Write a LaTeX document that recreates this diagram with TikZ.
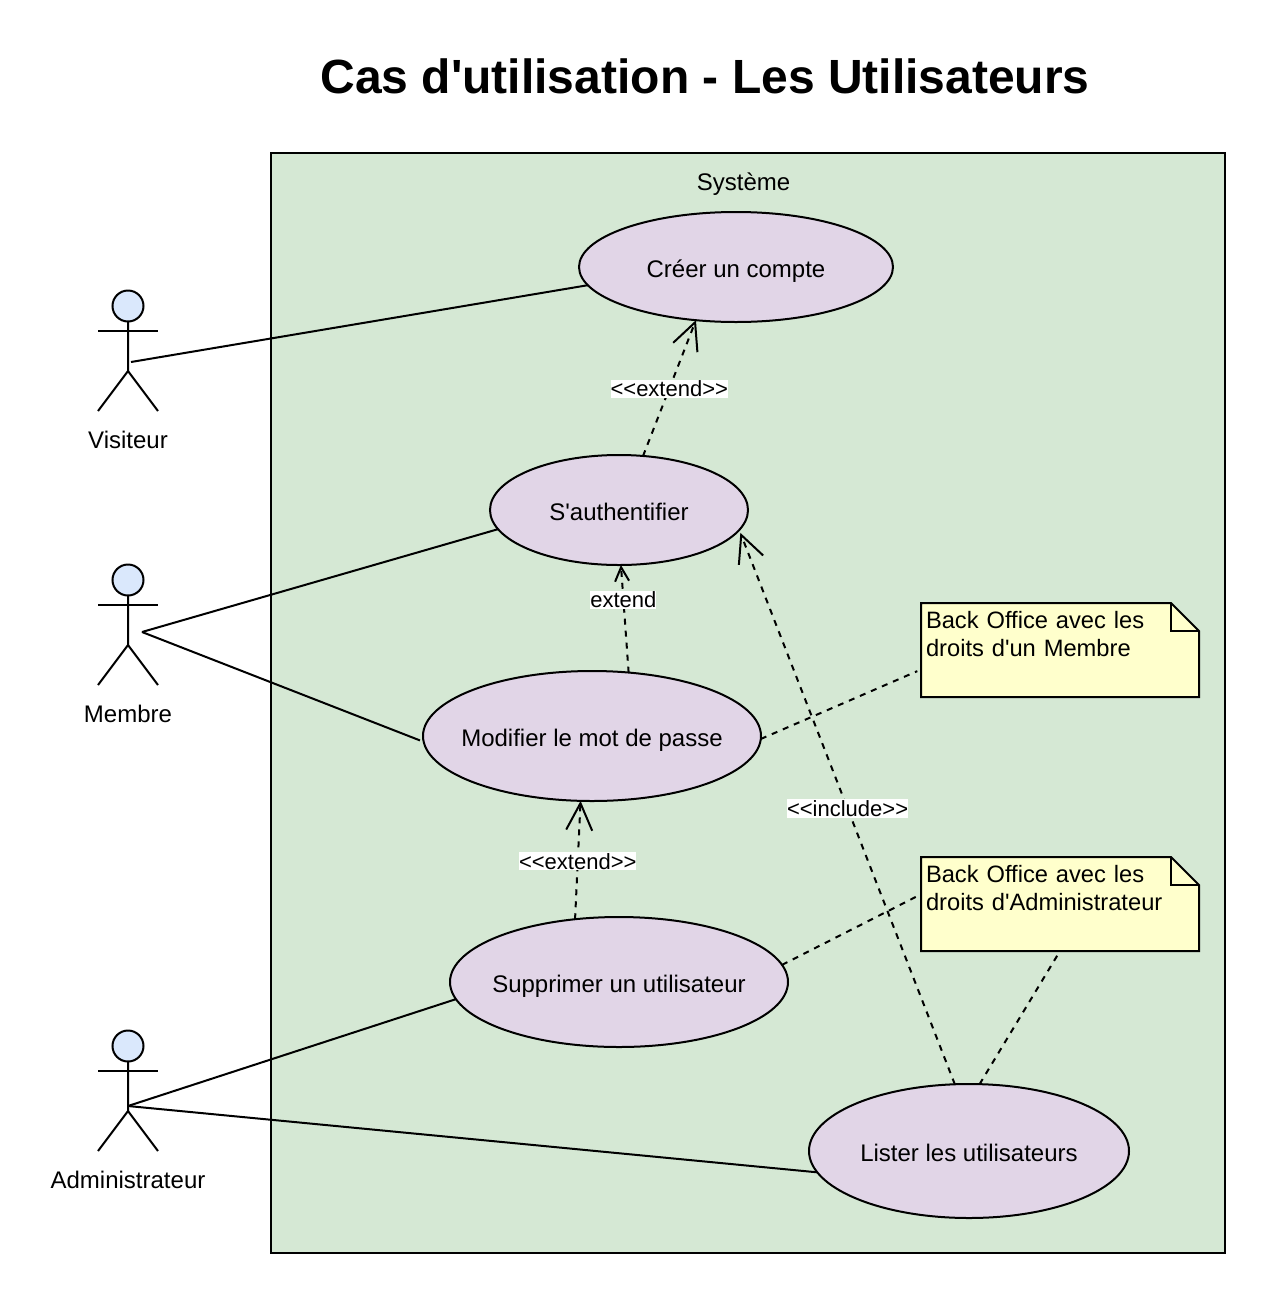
\documentclass[tikz,border=0pt]{standalone}
\usepackage{fontspec}
\setmainfont{Liberation Sans}[Ligatures=TeXOff]
\usetikzlibrary{arrows.meta,shapes.geometric}
\definecolor{sysgreen}{HTML}{D5E8D4}
\definecolor{casmauve}{HTML}{E1D5E7}
\definecolor{headblue}{HTML}{DAE8FC}
\definecolor{noteyellow}{HTML}{FFFFCC}
\tikzset{
  every node/.style={font=\fontsize{24}{28}\selectfont,outer sep=0pt},
  trait/.style={line width=2pt},
  cas/.style={draw,trait,ellipse,fill=casmauve,inner sep=0pt,text height=20pt,text depth=0pt},
  tete/.style={draw,trait,circle,fill=headblue,inner sep=0pt,minimum size=31pt},
  etiquette/.style={fill=white,inner xsep=0pt,inner ysep=1pt,font=\fontsize{22}{25}\selectfont},
  pointille/.style={trait,dash pattern=on 6pt off 6pt},
  grande/.style={pointille,-{Straight Barb[length=27pt,width=26pt,line width=2pt]}},
  petite/.style={pointille,-{Straight Barb[length=14pt,width=14pt,line width=2pt]}},
  notetexte/.style={anchor=north west,align=left,text width=268pt,inner xsep=5pt,inner ysep=0pt,text height=25pt,text depth=69pt,font=\fontsize{23.7}{28}\selectfont}
}
\newcommand{\notebox}[4]{
  \draw[trait,fill=noteyellow] (#2,#3) -- ++(250,0) -- ++(28,28) -- ++(0,66) -- ++(-278,0) -- cycle;
  \draw[trait] (#2+250,#3) -- ++(0,28) -- ++(28,0);
  \node[notetexte] (#1) at (#2,#3) {#4};
}
\begin{document}
\begin{tikzpicture}[x=1pt,y=-1pt]
  \useasboundingbox (0,0) rectangle (1276,1304);
  \node[font=\fontsize{48}{56}\selectfont\bfseries] (titre) at (705,76) {Cas d'utilisation - Les Utilisateurs};
  \node[draw,trait,fill=sysgreen,minimum width=954pt,minimum height=1100pt,inner sep=0pt] (systeme) at (748,703) {};
  \node (systemeNom) at (743.5,184) {Système};

  % acteurs
  \foreach \nom/\y/\txt in {visiteur/0/Visiteur,membre/274/Membre,admin/740/Administrateur} {
    \node[tete] (\nom) at (128,306+\y) {};
    \draw[trait] (\nom.south) -- (128,371+\y) -- (98,411+\y);
    \draw[trait] (128,371+\y) -- (158,411+\y);
    \draw[trait] (98,331+\y) -- (158,331+\y);
    \node (\nom Nom) at (128,440+\y) {\txt};
  }
  \coordinate (visiteurBras) at (131,362);
  \coordinate (membreBras) at (142,632);
  \coordinate (adminBras) at (128,1106);

  % cas
  \node[cas,minimum width=314pt,minimum height=110pt] (creer) at (736,267) {\makebox[0pt]{Créer un compte}};
  \node[cas,minimum width=258pt,minimum height=110pt] (auth) at (619,510) {\makebox[0pt]{S'authentifier}};
  \node[cas,minimum width=338pt,minimum height=130pt] (modifier) at (592,736) {\makebox[0pt]{Modifier le mot de passe}};
  \node[cas,minimum width=338pt,minimum height=130pt] (supprimer) at (619,982) {\makebox[0pt]{Supprimer un utilisateur}};
  \node[cas,minimum width=320pt,minimum height=134pt] (lister) at (969,1151) {\makebox[0pt]{Lister les utilisateurs}};

  \notebox{noteMembre}{921}{603}{Back Office avec les droits d'un Membre}
  \notebox{noteAdmin}{921}{857}{Back Office avec les droits d'Administrateur}

  % liens
  \draw[trait] (visiteurBras) -- (creer.187);
  \draw[trait] (membreBras) -- (auth.189.8);
  \draw[trait,shorten >=4pt] (membreBras) -- (modifier.182);
  \draw[trait] (adminBras) -- (supprimer.186.6);
  \draw[trait] (adminBras) -- (lister.188.6);

  \draw[grande] (auth.66) -- node[etiquette,pos=0.496] (lienA) {<<extend>>} (creer.233.5);
  \draw[petite] (modifier.60.3) -- node[etiquette,pos=0.676] (lienB) {extend} (auth.272);
  \draw[grande] (supprimer.125.5) -- node[etiquette,pos=0.49] (lienC) {<<extend>>} (modifier.260.4);
  \draw[grande] (lister.102.8) -- node[etiquette,pos=0.5] (lienD) {<<include>>} ([xshift=4pt]auth.349.3);

  \draw[pointille,shorten >=4pt] (modifier.359.3) -- (noteMembre.188);
  \draw[pointille] (supprimer.6) -- (noteAdmin.176.3);
  \draw[pointille] (lister.81.3) -- (noteAdmin.south);
\end{tikzpicture}
\end{document}
